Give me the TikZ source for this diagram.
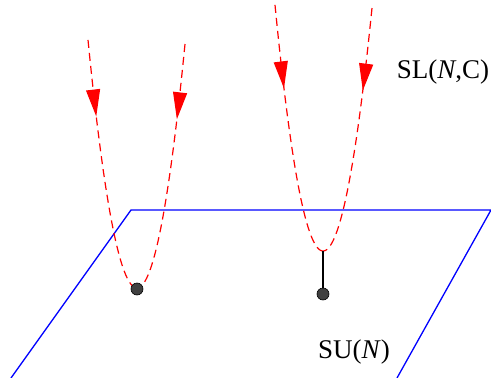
\documentclass[tikz,border=0pt]{standalone}
\usepackage{fontspec}
\setmainfont{Liberation Serif}
\usetikzlibrary{arrows.meta,decorations.markings}

\tikzset{
  plane/.style={blue, line width=1.3pt},
  path/.style={red, line width=1.2pt, dash pattern=on 8pt off 5pt,
    decoration={markings, mark=at position #1 with {\arrow{Triangle[length=27pt,width=14pt]}}},
    postaction={decorate}},
  dot/.style={circle, draw=black, fill=black!75, inner sep=0pt, minimum size=12pt, line width=0.6pt},
  lab/.style={font=\fontsize{27}{30}\selectfont}
}

\begin{document}
\begin{tikzpicture}[x=1pt, y=-1pt]
        \useasboundingbox (0,0) rectangle (491,378);
        % Ebene
        \draw[plane] (11,378) coordinate (P1)
        -- (131,210) coordinate (P2)
        -- (491,210) coordinate (P3)
        -- (397,378) coordinate (P4);

        % linke Parabel
        \draw[path=0.3] plot[domain=-49:0, samples=40] ({137+\x},{288-0.1033*\x*\x});
        \draw[path=0.3] plot[domain=48:0, samples=40] ({137+\x},{288-0.1059*\x*\x});
        \node[dot] (m1) at (137,289) {};

        % rechte Parabel
        \draw[path=0.33] plot[domain=-48:0, samples=40] ({323+\x},{251-0.1068*\x*\x});
        \draw[path=0.33] plot[domain=49:0, samples=40] ({323+\x},{251-0.1012*\x*\x});
        \coordinate (b2) at (323,251);
        \node[dot] (m2) at (323,294) {};
        \draw[line width=1.2pt] (b2) -- (m2);

        \node[lab] (sl) at (443,72) {SL(\textit{N},C)};
        \node[lab] (su) at (354,352) {SU(\textit{N})};
\end{tikzpicture}
\end{document}
